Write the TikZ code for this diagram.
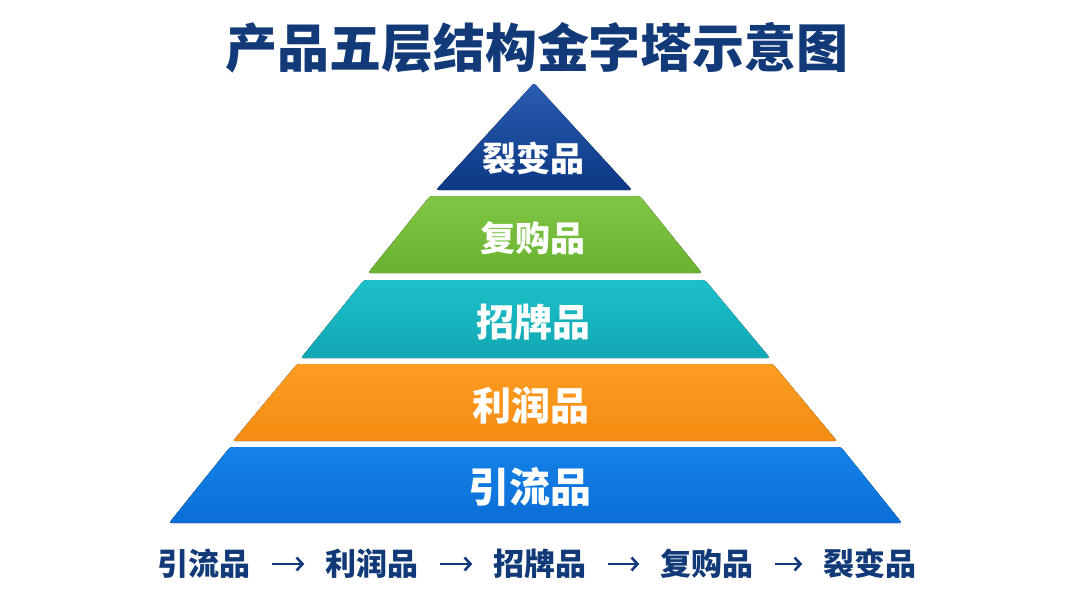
\documentclass[tikz,border=0pt]{standalone}
\usepackage{fontspec}
\newfontfamily\cjk{Noto Sans CJK SC}
\usetikzlibrary{arrows.meta}
\definecolor{navy}{HTML}{123A78}
\definecolor{aTop}{HTML}{2A5DB2}\definecolor{aBot}{HTML}{0C3884}
\definecolor{bTop}{HTML}{80C545}\definecolor{bBot}{HTML}{69B330}
\definecolor{cTop}{HTML}{1DC0C9}\definecolor{cBot}{HTML}{10A7B3}
\definecolor{dTop}{HTML}{FC9D22}\definecolor{dBot}{HTML}{F58B12}
\definecolor{eTop}{HTML}{1482E8}\definecolor{eBot}{HTML}{0A6ED6}
\tikzset{
  layer/.style={rounded corners=2.5pt},
  lbl/.style={text=white, font=\cjk\bfseries, inner sep=0pt},
  flow/.style={text=navy, font=\cjk\bfseries\fontsize{31}{31}\selectfont, inner sep=0pt},
  flowarrow/.style={draw=navy, line width=2.6pt, -{Straight Barb[length=6pt,width=13pt,line width=2.6pt]}, shorten <=21pt, shorten >=21pt}
}
\begin{document}
\begin{tikzpicture}[x=1pt,y=-1pt]
\useasboundingbox[fill=white] (0,0) rectangle (1080,608);
% title
\node[text=navy, font=\cjk\bfseries\fontsize{52}{52}\selectfont, inner sep=0pt] (title) at (537,48) {产品五层结构金字塔示意图};
% layers
\fill[layer, top color=aTop, bottom color=aBot] (534,83) -- (632,190) -- (436,190) -- cycle;
\fill[layer, top color=bTop, bottom color=bBot] (430,196) -- (640,196) -- (702,273) -- (368,273) -- cycle;
\fill[layer, top color=cTop, bottom color=cBot] (364,280) -- (705,280) -- (770,358) -- (301,358) -- cycle;
\fill[layer, top color=dTop, bottom color=dBot] (297,364) -- (773,364) -- (837,441) -- (233,441) -- cycle;
\fill[layer, top color=eTop, bottom color=eBot] (230,447) -- (841,447) -- (902,523) -- (169,523) -- cycle;
% labels
\node[lbl, font=\cjk\bfseries\fontsize{34}{34}\selectfont] (l1) at (533,158) {裂变品};
\node[lbl, font=\cjk\bfseries\fontsize{35}{35}\selectfont] (l2) at (533,238) {复购品};
\node[lbl, font=\cjk\bfseries\fontsize{38}{38}\selectfont] (l3) at (533,322) {招牌品};
\node[lbl, font=\cjk\bfseries\fontsize{39}{39}\selectfont] (l4) at (531,405) {利润品};
\node[lbl, font=\cjk\bfseries\fontsize{41}{41}\selectfont] (l5) at (530,487) {引流品};
% flow row
\node[flow] (f1) at (204,564) {引流品};
\node[flow] (f2) at (372,564) {利润品};
\node[flow] (f3) at (540,564) {招牌品};
\node[flow] (f4) at (707,564) {复购品};
\node[flow] (f5) at (870,564) {裂变品};
\draw[flowarrow] (f1.east) -- (f2.west);
\draw[flowarrow] (f2.east) -- (f3.west);
\draw[flowarrow] (f3.east) -- (f4.west);
\draw[flowarrow] (f4.east) -- (f5.west);
\end{tikzpicture}
\end{document}
